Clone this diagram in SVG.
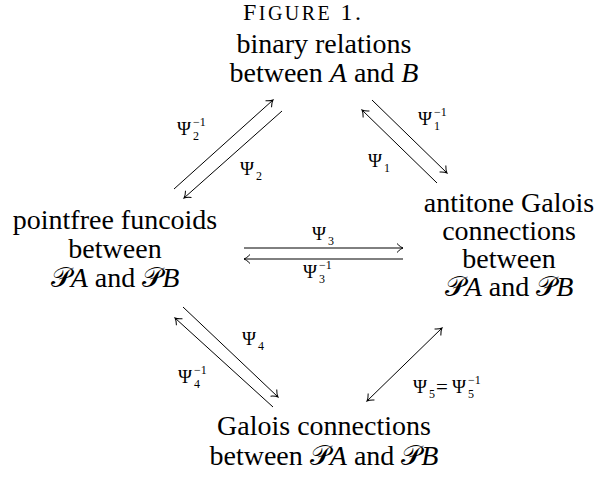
<svg xmlns="http://www.w3.org/2000/svg" width="608" height="478" viewBox="0 0 608 478">
<defs>
<style>
text{font-family:"Liberation Serif","DejaVu Serif",serif;fill:#000}
.n{font-size:28px;text-anchor:middle}
.t{font-size:24px}
.l{font-size:19px}
.s{font-size:12px}
.i{font-style:italic}
line{stroke:#000;stroke-width:1;fill:none}
</style>
<marker id="ah" markerUnits="userSpaceOnUse" markerWidth="14" markerHeight="14" viewBox="-8 -7 10 14" refX="0" refY="0" orient="auto-start-reverse">
<path d="M-6,-4.5 C-3.5,-1.8 -1.2,-0.4 0,0 C-1.2,0.4 -3.5,1.8 -6,4.5" fill="none" stroke="#000" stroke-width="1"/>
</marker>
</defs>
<rect width="608" height="478" fill="#fff"/>
<text class="t" x="243" y="20" textLength="118" lengthAdjust="spacing">F<tspan font-size="20">IGURE</tspan> 1.</text>
<g id="node-top">
<text class="n" x="324" y="53">binary relations</text>
<text class="n" x="324" y="82">between <tspan class="i">A</tspan> and <tspan class="i">B</tspan></text>
</g>
<g id="node-left">
<text class="n" x="115" y="229">pointfree funcoids</text>
<text class="n" x="115" y="258">between</text>
<text class="n" x="115" y="287">𝒫<tspan class="i">A</tspan> and 𝒫<tspan class="i">B</tspan></text>
</g>
<g id="node-right">
<text class="n" x="509" y="212">antitone Galois</text>
<text class="n" x="509" y="240">connections</text>
<text class="n" x="509" y="268">between</text>
<text class="n" x="509" y="296">𝒫<tspan class="i">A</tspan> and 𝒫<tspan class="i">B</tspan></text>
</g>
<g id="node-bottom">
<text class="n" x="324" y="435">Galois connections</text>
<text class="n" x="324" y="465">between 𝒫<tspan class="i">A</tspan> and 𝒫<tspan class="i">B</tspan></text>
</g>
<g id="connectors">
<line x1="174" y1="189" x2="273" y2="100" marker-end="url(#ah)"/>
<line x1="282" y1="111" x2="184" y2="198" marker-end="url(#ah)"/>
<line x1="437" y1="183" x2="362" y2="110" marker-end="url(#ah)"/>
<line x1="372" y1="100" x2="447" y2="173" marker-end="url(#ah)"/>
<line x1="244" y1="248" x2="403" y2="248" marker-end="url(#ah)"/>
<line x1="403" y1="259" x2="244" y2="259" marker-end="url(#ah)"/>
<line x1="183" y1="307" x2="278" y2="397" marker-end="url(#ah)"/>
<line x1="273" y1="407" x2="175" y2="318" marker-end="url(#ah)"/>
<line x1="367" y1="401" x2="442" y2="328" marker-start="url(#ah)" marker-end="url(#ah)"/>
<g id="labels">
<text class="l" x="177" y="135">Ψ</text><text class="s" x="193" y="126">−1</text><text class="s" x="193" y="140">2</text>
<text class="l" x="240" y="175">Ψ</text><text class="s" x="256" y="180">2</text>
<text class="l" x="418" y="125">Ψ</text><text class="s" x="434" y="116">−1</text><text class="s" x="434" y="130">1</text>
<text class="l" x="368" y="167">Ψ</text><text class="s" x="384" y="172">1</text>
<text class="l" x="312" y="240">Ψ</text><text class="s" x="328" y="245">3</text>
<text class="l" x="303" y="278">Ψ</text><text class="s" x="319" y="269">−1</text><text class="s" x="319" y="283">3</text>
<text class="l" x="242" y="345">Ψ</text><text class="s" x="258" y="350">4</text>
<text class="l" x="178" y="383">Ψ</text><text class="s" x="194" y="374">−1</text><text class="s" x="194" y="388">4</text>
<text class="l" x="413" y="393">Ψ</text><text class="s" x="429" y="398">5</text><text x="436" y="394" font-size="21">=</text><text class="l" x="452" y="393">Ψ</text><text class="s" x="468" y="384">−1</text><text class="s" x="468" y="398">5</text>
</g>
</g>
</svg>
